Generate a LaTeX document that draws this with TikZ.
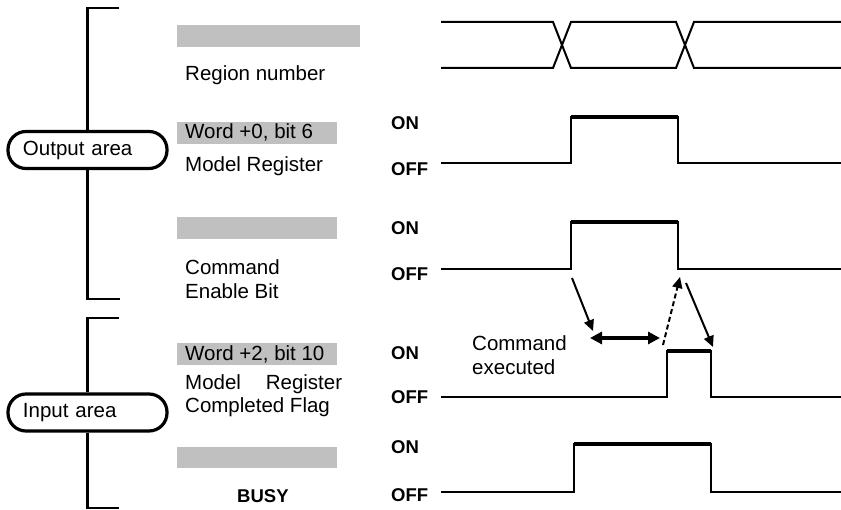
\documentclass[tikz,border=0pt]{standalone}
\usepackage{fontspec}
\setmainfont{Liberation Sans}
\usetikzlibrary{arrows.meta}
\definecolor{barGray}{RGB}{192,192,192}
\tikzset{
  lbl/.style={anchor=base west, inner sep=0pt, font=\fontsize{20.5}{24}\selectfont},
  onoff/.style={anchor=west, inner sep=0pt, font=\fontsize{18.5}{22}\selectfont\bfseries},
  bar/.style={fill=barGray, draw=none},
  pill/.style={draw, line width=3.2pt, rounded corners=18pt, minimum height=37pt,
    text width=129pt, inner xsep=15pt, align=left, font=\fontsize{20.5}{24}\selectfont},
  brk/.style={line width=2.4pt},
  wave/.style={line width=2pt},
  hi/.style={line width=4pt},
  arr/.style={line width=2pt, -{Triangle[length=11pt,width=10pt]}},
}
\begin{document}
\begin{tikzpicture}[x=1pt,y=-1pt]
\useasboundingbox (0,0) rectangle (841,510);
% brackets and area labels
\node[pill] (outp) at (87.5,150) {Output area};
\node[pill] (inp) at (87.5,412.5) {Input area};
\coordinate (ot) at (119,8);
\coordinate (ob) at (120,299);
\coordinate (it) at (119,318);
\coordinate (ib) at (119,508);
\draw[brk] (ot) -| (outp.north);
\draw[brk] (outp.south) |- (ob);
\draw[brk] (it) -| (inp.north);
\draw[brk] (inp.south) |- (ib);
% gray bars
\fill[bar] (177,25) rectangle (360,47);
\fill[bar] (177,122) rectangle (337,144);
\fill[bar] (177,217) rectangle (337,239);
\fill[bar] (177,343) rectangle (337,365);
\fill[bar] (177,447) rectangle (337,468);
% labels
\node[lbl] (t1) at (185,81) {Region number};
\node[lbl] (t2) at (185,139) {Word +0, bit 6};
\node[lbl] (t3) at (185,172) {Model Register};
\node[lbl] (t4) at (185,275) {Command};
\node[lbl] (t5) at (185,299) {Enable Bit};
\node[lbl] (t6) at (185,361) {Word +2, bit 10};
\node[lbl] (t7) at (185,390) {\hbox to 157pt{Model\hfill Register}};
\node[lbl] (t8) at (185,413) {Completed Flag};
\node[lbl, font=\fontsize{18.5}{22}\selectfont\bfseries] (t9) at (237,502) {BUSY};
\node[lbl] (t10) at (472,351) {Command};
\node[lbl] (t11) at (472,375) {executed};
% ON / OFF
\node[onoff] (on1) at (391,123) {ON};
\node[onoff] (off1) at (391,169.5) {OFF};
\node[onoff] (on2) at (391,228) {ON};
\node[onoff] (off2) at (391,274) {OFF};
\node[onoff] (on3) at (391,353) {ON};
\node[onoff] (off3) at (391,397) {OFF};
\node[onoff] (on4) at (391,447) {ON};
\node[onoff] (off4) at (391,495) {OFF};
% region number waveform
\draw[wave] (441,22) -- (553,22) -- (571,68) -- (676,68) -- (694,22) -- (841,22);
\draw[wave] (441,68) -- (553,68) -- (571,22) -- (676,22) -- (694,68) -- (841,68);
% model register
\draw[wave] (441,163) -- (571,163) -- (571,117) -- (678,117) -- (678,163) -- (841,163);
\draw[hi] (571,117) -- (678,117);
% command enable bit
\draw[wave] (441,269.5) -- (571,269.5) -- (571,222) -- (678,222) -- (678,269.5) -- (841,269.5);
\draw[hi] (571,222) -- (678,222);
% completed flag
\draw[wave] (441,397) -- (667,397) -- (667,351) -- (711,351) -- (711,397) -- (841,397);
\draw[hi] (667,351) -- (711,351);
% busy
\draw[wave] (441,492) -- (574,492) -- (574,444) -- (711,444) -- (711,492) -- (841,492);
\draw[hi] (574,444) -- (711,444);
% arrows
\coordinate (a1s) at (572,278);
\coordinate (a1e) at (593,331);
\coordinate (d1) at (590,338);
\coordinate (d2) at (660,338);
\coordinate (a2s) at (663,345);
\coordinate (a2e) at (680,277);
\coordinate (a3s) at (686,283);
\coordinate (a3e) at (713,347);
\draw[arr] (a1s) -- (a1e);
\draw[line width=3.5pt, {Triangle[length=12pt,width=12pt]}-{Triangle[length=12pt,width=12pt]}] (d1) -- (d2);
\draw[arr, dashed, dash pattern=on 5pt off 3pt] (a2s) -- (a2e);
\draw[arr] (a3s) -- (a3e);
\end{tikzpicture}
\end{document}
